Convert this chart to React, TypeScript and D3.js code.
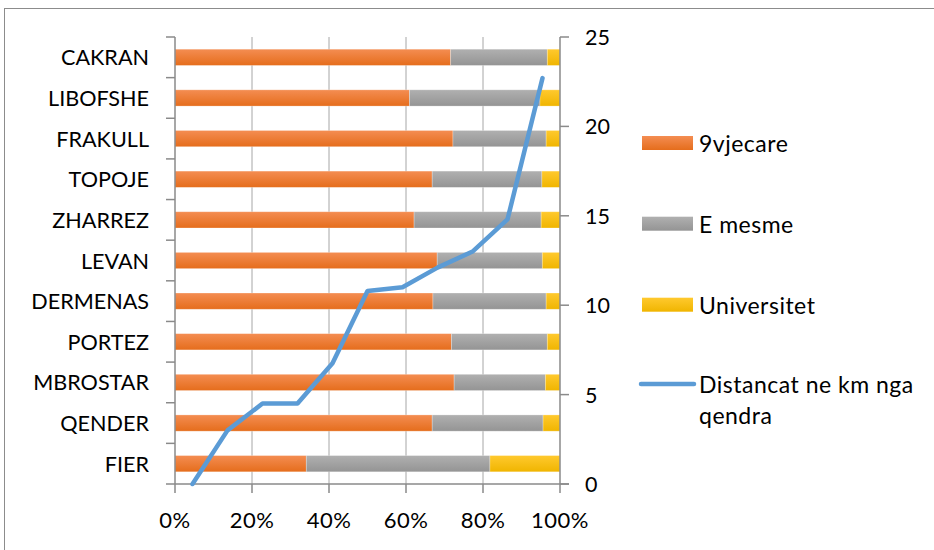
import React from "react";
import * as d3 from "d3";

const categories = ["FIER", "QENDER", "MBROSTAR", "PORTEZ", "DERMENAS", "LEVAN", "ZHARREZ", "TOPOJE", "FRAKULL", "LIBOFSHE", "CAKRAN"];
const nineYear = [34.1, 66.8, 72.5, 71.8, 67.0, 68.1, 62.1, 66.8, 72.2, 60.9, 71.6];
const secondary = [47.7, 28.8, 23.7, 24.9, 29.4, 27.3, 33.0, 28.5, 24.2, 33.9, 25.1];
const university = [18.2, 4.4, 3.8, 3.3, 3.6, 4.6, 4.9, 4.7, 3.6, 5.2, 3.3];
const distance = [0, 3.0, 4.5, 4.5, 6.75, 10.8, 11.0, 12.1, 13.0, 14.8, 22.7];
const seriesNames = ["9vjecare", "E mesme", "Universitet", "Distancat ne km nga qendra"];
const pctTicks = [0, 0.2, 0.4, 0.6, 0.8, 1.0];
const kmTicks = [0, 5, 10, 15, 20, 25];

const FONT = "Lato, 'Open Sans', sans-serif";

export default function App() {
  const left = 175, right = 560, top = 37, bottom = 484;
  const x = d3.scaleLinear().domain([0, 1]).range([left, right]);
  const y = d3.scaleBand<string>().domain([...categories].reverse()).range([top, bottom]).padding(0);
  const y2 = d3.scaleLinear().domain([0, 25]).range([bottom, top]);
  const xLine = d3.scaleBand<number>().domain(categories.map((_, i) => i)).range([left, right]);
  const bh = y.bandwidth() / 2.5;

  const rows = categories.map((c, i) => {
    const vals = [nineYear[i], secondary[i], university[i]];
    const total = d3.sum(vals);
    let acc = 0;
    const segs = vals.map((v) => {
      const s = { x0: acc / total, x1: (acc + v) / total };
      acc += v;
      return s;
    });
    return { c, segs };
  });

  const line = d3
    .line<number>()
    .x((_, i) => (xLine(i) as number) + xLine.bandwidth() / 2)
    .y((d) => y2(d));

  const fills = ["url(#gOrange)", "url(#gGray)", "url(#gYellow)"];
  const axisColor = "#8a8a8a";
  const gridColor = "#a6a6a6";
  const legendY = [143, 223.7, 304.7];
  const legendFont = 23;
  const legendSpacing = 0.5;

  return (
    <svg width={934} height={550} style={{ position: "absolute", left: 0, top: 0, background: "#fff" }} fontFamily={FONT}>
      <defs>
        <linearGradient id="gOrange" x1="0" y1="0" x2="0" y2="1">
          <stop offset="0" stopColor="#F48D52" />
          <stop offset="1" stopColor="#E56D1C" />
        </linearGradient>
        <linearGradient id="gGray" x1="0" y1="0" x2="0" y2="1">
          <stop offset="0" stopColor="#B0B0B0" />
          <stop offset="1" stopColor="#949494" />
        </linearGradient>
        <linearGradient id="gYellow" x1="0" y1="0" x2="0" y2="1">
          <stop offset="0" stopColor="#FFC92E" />
          <stop offset="1" stopColor="#F0B500" />
        </linearGradient>
      </defs>
      <rect x={4.5} y={8.5} width={1000} height={1000} fill="#fff" stroke="#8c8c8c" strokeWidth={1} />

      {/* gridlines */}
      {pctTicks.slice(1, -1).map((t) => (
        <line key={t} x1={x(t)} x2={x(t)} y1={top} y2={bottom} stroke={gridColor} strokeWidth={1} />
      ))}

      {/* bars */}
      {rows.map((r) => {
        const yy = (y(r.c) as number) + (y.bandwidth() - bh) / 2;
        return (
          <g key={r.c}>
            {r.segs.map((s, j) => (
              <rect key={j} x={x(s.x0)} y={yy} width={x(s.x1) - x(s.x0)} height={bh} fill={fills[j]} stroke="#ffffff" strokeOpacity={0.35} strokeWidth={0.75} />
            ))}
          </g>
        );
      })}

      {/* left axis */}
      <line x1={left} x2={left} y1={top} y2={bottom} stroke={axisColor} strokeWidth={1.5} />
      {d3.range(categories.length + 1).map((i) => {
        const yy = top + i * y.bandwidth();
        return <line key={i} x1={left - 9} x2={left} y1={yy} y2={yy} stroke={axisColor} strokeWidth={1.5} />;
      })}
      {categories.map((c) => (
        <text key={c} x={149} y={(y(c) as number) + y.bandwidth() / 2} textAnchor="end" dominantBaseline="central" fontSize={21.6} fill="#000">
          {c}
        </text>
      ))}

      {/* bottom axis */}
      <line x1={left} x2={right + 9} y1={bottom} y2={bottom} stroke={axisColor} strokeWidth={1.5} />
      {pctTicks.map((t) => (
        <g key={t}>
          <line x1={x(t)} x2={x(t)} y1={bottom} y2={bottom + 9} stroke={axisColor} strokeWidth={1.5} />
          <text x={x(t)} y={519} textAnchor="middle" dominantBaseline="central" fontSize={22} letterSpacing={0.5} fill="#000">
            {d3.format(".0%")(t)}
          </text>
        </g>
      ))}

      {/* right axis */}
      <line x1={right} x2={right} y1={top} y2={bottom} stroke={axisColor} strokeWidth={1.5} />
      {kmTicks.map((t) => (
        <g key={t}>
          <line x1={right} x2={right + 9} y1={y2(t)} y2={y2(t)} stroke={axisColor} strokeWidth={1.5} />
          <text x={585} y={y2(t)} dominantBaseline="central" fontSize={21.5} fill="#000">
            {t}
          </text>
        </g>
      ))}

      {/* line */}
      <path d={line(distance) || ""} fill="none" stroke="#5B9BD5" strokeWidth={4.5} strokeLinejoin="round" strokeLinecap="round" />

      {/* legend */}
      {seriesNames.slice(0, 3).map((n, i) => (
        <g key={n}>
          <rect x={642} y={legendY[i] - 7} width={51} height={14} fill={fills[i]} />
          <text x={699} y={legendY[i]} dominantBaseline="central" fontSize={legendFont} letterSpacing={legendSpacing} fill="#000">
            {n}
          </text>
        </g>
      ))}
      <line x1={641} x2={694} y1={384} y2={384} stroke="#5B9BD5" strokeWidth={4.5} strokeLinecap="round" />
      <text x={699} y={384} dominantBaseline="central" fontSize={legendFont} letterSpacing={legendSpacing} fill="#000">
        <tspan x={699}>{"Distancat ne km nga"}</tspan>
        <tspan x={699} dy={30.5}>{"qendra"}</tspan>
      </text>
    </svg>
  );
}
